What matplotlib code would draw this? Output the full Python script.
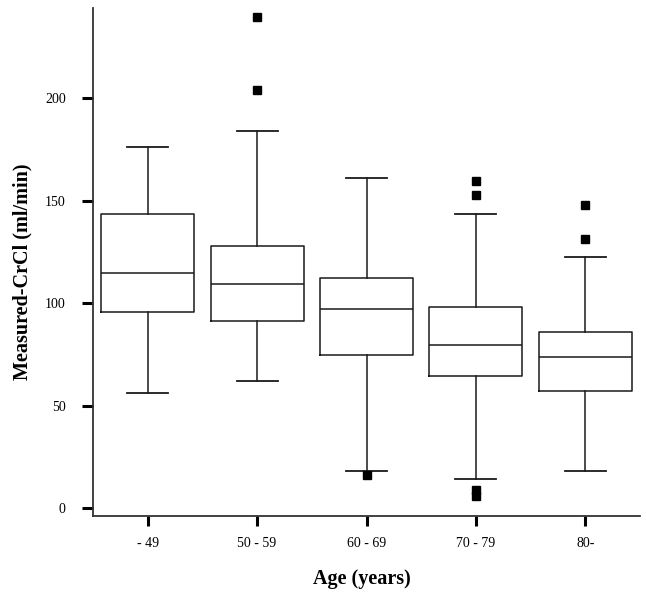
import matplotlib
matplotlib.use("Agg")
import matplotlib.pyplot as plt

# ---- data ----
age_groups = ["- 49", "50 - 59", "60 - 69", "70 - 79", "80-"]
whisker_low = [56.1, 62.0, 18.2, 14.1, 18.2]
q1 = [95.6, 91.4, 74.6, 64.5, 57.2]
medians = [114.6, 109.4, 97.2, 79.7, 73.7]
q3 = [143.4, 128.1, 112.2, 98.3, 85.9]
whisker_high = [176.4, 184.2, 161.3, 143.6, 122.7]
outliers = [
    [],
    [239.8, 204.0],
    [16.2],
    [159.8, 152.8, 8.8, 6.0],
    [147.8, 131.2],
]
y_ticks = [0, 50, 100, 150, 200]

plt.rcParams['font.family'] = ['Liberation Serif', 'DejaVu Serif']

fig = plt.figure(figsize=(6.46, 6.0), dpi=100)
ax = fig.add_axes([93 / 646, 84 / 600, (640 - 93) / 646, (516 - 8) / 600])

stats = []
for i, name in enumerate(age_groups):
    stats.append(dict(label=name, med=medians[i], q1=q1[i], q3=q3[i],
                      whislo=whisker_low[i], whishi=whisker_high[i],
                      fliers=outliers[i]))

positions = list(range(len(age_groups)))
lc = "#1a1a1a"
ax.bxp(stats, positions=positions, widths=0.85, capwidths=0.375,
       boxprops=dict(color=lc, linewidth=1.1),
       medianprops=dict(color=lc, linewidth=1.1),
       whiskerprops=dict(color=lc, linewidth=1.1),
       capprops=dict(color=lc, linewidth=1.3),
       flierprops=dict(marker='s', markersize=5.2, markerfacecolor='black',
                       markeredgecolor='black', linestyle='none'))

ax.set_xlim(-0.5, 4.5)
ax.set_ylim(-3.7, 244)
ax.set_yticks(y_ticks)
ax.set_yticklabels([str(v) for v in y_ticks])
ax.set_xticks(positions)
ax.set_xticklabels(age_groups)

for s in ['top', 'right']:
    ax.spines[s].set_visible(False)
for s in ['left', 'bottom']:
    ax.spines[s].set_color('#333333')
    ax.spines[s].set_linewidth(1.3)

ax.tick_params(axis='y', direction='out', length=7.6, width=2.2, color='black',
               pad=12, labelsize=10)
ax.tick_params(axis='x', direction='out', length=7.2, width=2.2, color='black',
               pad=8, labelsize=10)

fig.text(22 / 646, 1 - 271.5 / 600, "Measured-CrCl (ml/min)", rotation=90,
         ha='center', va='center', fontsize=14.5, fontweight='bold')
fig.text(362 / 646, 1 - 579 / 600, "Age (years)", ha='center', va='center',
         fontsize=14.5, fontweight='bold')

fig.savefig("out.png", dpi=100, facecolor='white')
